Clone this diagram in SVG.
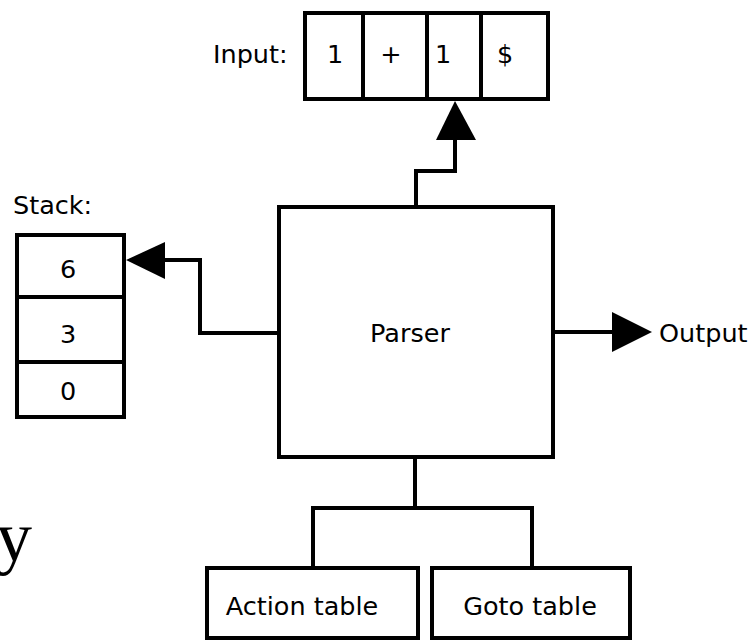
<svg xmlns="http://www.w3.org/2000/svg" width="751" height="641" viewBox="0 0 751 641">
<style>
.box{fill:#fff;stroke:#000;stroke-width:4}
.ln{fill:none;stroke:#000;stroke-width:4}
.t{font-family:"DejaVu Sans","Liberation Sans",sans-serif;font-size:25.5px;fill:#000}
.c{text-anchor:middle}
.ah{fill:#000;stroke:none}
</style>
<rect width="751" height="641" fill="#fff"/>
<text x="-4" y="561" style="font-family:'Liberation Serif',serif;font-size:72px">y</text>
<g id="connectors">
<polyline class="ln" points="416,207 416,171 455,171 455,138"/>
<polygon class="ah" points="455,101 436,140 476,140"/>
<polyline class="ln" points="279,333 200,333 200,260 163,260"/>
<polygon class="ah" points="126,260 165,242 165,279"/>
<line class="ln" x1="553" y1="332" x2="614" y2="332"/>
<polygon class="ah" points="652,332 612,312 612,352"/>
<polyline class="ln" points="415,457 415,508"/>
<polyline class="ln" points="313,567 313,508 532,508 532,567"/>
</g>
<g id="input">
<text class="t" x="213" y="63">Input:</text>
<rect class="box" x="305" y="13" width="243" height="86"/>
<line class="ln" x1="363" y1="13" x2="363" y2="99"/>
<line class="ln" x1="427" y1="13" x2="427" y2="99"/>
<line class="ln" x1="481" y1="13" x2="481" y2="99"/>
<text class="t c" x="335" y="63">1</text>
<text class="t c" x="391" y="63">+</text>
<text class="t c" x="443" y="63">1</text>
<text class="t c" x="505" y="63">$</text>
</g>
<g id="stack">
<text class="t" x="13" y="214">Stack:</text>
<rect class="box" x="17" y="235" width="107" height="182"/>
<line class="ln" x1="17" y1="297" x2="124" y2="297"/>
<line class="ln" x1="17" y1="362" x2="124" y2="362"/>
<text class="t c" x="68" y="278">6</text>
<text class="t c" x="68" y="343">3</text>
<text class="t c" x="68" y="400">0</text>
</g>
<g id="parser">
<rect class="box" x="279" y="207" width="274" height="250"/>
<text class="t c" x="410" y="342">Parser</text>
</g>
<g id="output">
<text class="t" x="659" y="342">Output</text>
</g>
<g id="action">
<rect class="box" x="207" y="568" width="211" height="70"/>
<text class="t c" x="302" y="615">Action table</text>
</g>
<g id="goto">
<rect class="box" x="432" y="568" width="198" height="70"/>
<text class="t c" x="530" y="615">Goto table</text>
</g>
</svg>
